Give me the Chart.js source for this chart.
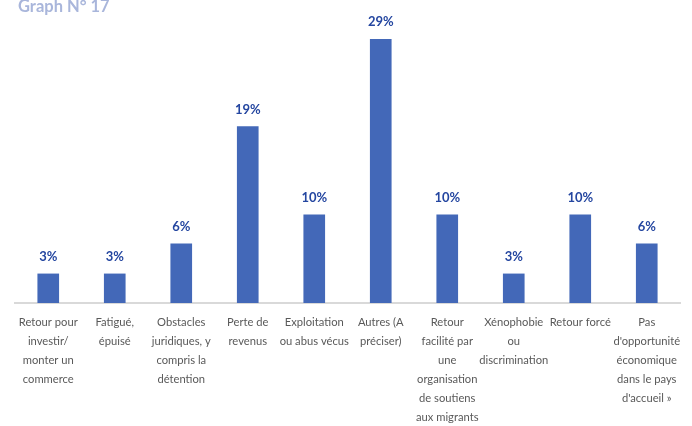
<!DOCTYPE html>
<html>
<head>
<meta charset="utf-8">
<script src="https://cdn.jsdelivr.net/npm/chart.js@4.4.1/dist/chart.umd.min.js"></script>
<style>
  html, body { margin: 0; padding: 0; background: #ffffff; }
  #wrap { position: relative; width: 692px; height: 426px; overflow: hidden; }
  #title { position: absolute; left: 18px; top: -4px; font-family: Lato, "Open Sans", sans-serif; font-weight: bold; font-size: 16.5px; color: #A9B6DB; white-space: nowrap; }
  canvas { position: absolute; left: 0; top: 0; }
</style>
</head>
<body>
<div id="wrap">
  <canvas id="c" width="692" height="426"></canvas>
  <div id="title">Graph N° 17</div>
</div>
<script>
const categories = [
  ["Retour pour", "investir/", "monter un", "commerce"],
  ["Fatigué,", "épuisé"],
  ["Obstacles", "juridiques, y", "compris la", "détention"],
  ["Perte de", "revenus"],
  ["Exploitation", "ou abus vécus"],
  ["Autres (A", "préciser)"],
  ["Retour", "facilité par", "une", "organisation", "de soutiens", "aux migrants"],
  ["Xénophobie", "ou", "discrimination"],
  ["Retour forcé"],
  ["Pas", "d'opportunité", "économique", "dans le pays", "d'accueil »"]
];
const values = [3.2, 3.2, 6.5, 19.4, 9.7, 29.0, 9.7, 3.2, 9.7, 6.5];
const valueLabels = ["3%", "3%", "6%", "19%", "10%", "29%", "10%", "3%", "10%", "6%"];

const labelPlugin = {
  id: 'valueLabels',
  afterDatasetsDraw(chart) {
    const ctx = chart.ctx;
    const meta = chart.getDatasetMeta(0);
    ctx.save();
    ctx.font = 'bold 13px Lato, sans-serif';
    ctx.fillStyle = '#2446A0';
    ctx.textAlign = 'center';
    ctx.textBaseline = 'middle';
    meta.data.forEach((bar, i) => {
      ctx.fillText(valueLabels[i], bar.x, bar.y - 17);
    });
    ctx.restore();
  }
};

new Chart(document.getElementById('c'), {
  type: 'bar',
  data: {
    labels: categories,
    datasets: [{
      data: values,
      backgroundColor: '#4368B8',
      barThickness: 21
    }]
  },
  options: {
    responsive: false,
    animation: false,
    layout: { padding: { left: 15, right: 12, top: 12, bottom: 0 } },
    plugins: { legend: { display: false }, tooltip: { enabled: false } },
    scales: {
      x: {
        grid: { display: false, drawTicks: false },
        border: { display: true, color: '#D9D9D9', width: 2 },
        ticks: {
          autoSkip: false, maxRotation: 0, minRotation: 0, padding: 10,
          color: '#595959',
          font: { family: 'Lato, sans-serif', size: 11.2, lineHeight: 1.7 }
        },
        afterFit(scale) { scale.height = 123; }
      },
      y: {
        display: false,
        min: 0, max: 32
      }
    }
  },
  plugins: [labelPlugin]
});
</script>
</body>
</html>
